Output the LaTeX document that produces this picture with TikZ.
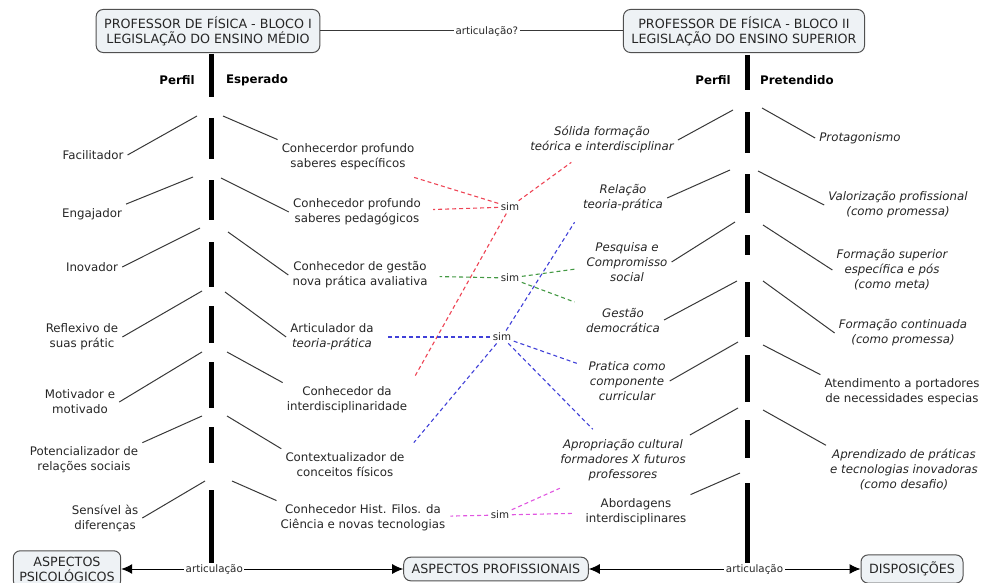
\documentclass[tikz,border=0pt]{standalone}
\usepackage{fontspec}
\setmainfont{DejaVu Sans}
\usetikzlibrary{arrows.meta}

\definecolor{boxfill}{HTML}{EEF2F5}
\definecolor{boxline}{HTML}{505050}
\definecolor{ink}{HTML}{262626}
\definecolor{simred}{HTML}{EE4455}
\definecolor{simgreen}{HTML}{449944}
\definecolor{simblue}{HTML}{4040D8}
\definecolor{simpink}{HTML}{E055E0}

\begin{document}
\begin{tikzpicture}[
    x=1pt, y=-1pt,
    every node/.style={text=ink, font=\fontsize{11.8}{15}\selectfont, align=center, inner sep=4pt},
    block/.style={rectangle, rounded corners=7pt, draw=boxline, line width=1pt, fill=boxfill, inner xsep=8pt, inner ysep=7pt, font=\fontsize{12.7}{14.8}\selectfont},
    phrase/.style={font=\fontsize{10.3}{12}\selectfont, fill=white, inner sep=1.5pt},
    tag/.style={font=\fontsize{11.8}{15}\selectfont\bfseries, text=black},
    spine/.style={line width=5pt, black},
    branch/.style={line width=1pt, draw=black!78},
    link/.style={dash pattern=on 4pt off 3pt, line width=1.1pt, shorten >=8pt, shorten <=1pt},
    bothway/.style={{Latex[length=11pt,width=10pt]}-{Latex[length=11pt,width=10pt]}, line width=1pt, draw=black}
]
\useasboundingbox (0,0) rectangle (988,583);

% Spines
\draw[spine] (211,54) -- (211,97) (211,118) -- (211,159) (211,180) -- (211,220) (211,242) -- (211,287)
  (211,306) -- (211,343) (211,362) -- (211,408) (211,427) -- (211,463) (211,490) -- (211,563);
\draw[spine] (747,55) -- (747,90) (747,112) -- (747,153) (747,174) -- (747,213) (747,235) -- (747,255)
  (747,282) -- (747,337) (747,355) -- (747,402) (747,420) -- (747,458) (747,483) -- (747,563);

% Headers
\node[block] (bloco1) at (208,31) {PROFESSOR DE FÍSICA - BLOCO I\\LEGISLAÇÃO DO ENSINO MÉDIO};
\node[block] (bloco2) at (744,31) {PROFESSOR DE FÍSICA - BLOCO II\\LEGISLAÇÃO DO ENSINO SUPERIOR};
\draw[branch] (bloco1) -- node[phrase, pos=0.55] (artic) {articulação?} (bloco2);

\node[tag] (perfil1) at (177,80) {Perfil};
\node[tag] (esperado) at (257,80) {Esperado};
\node[tag] (perfil2) at (713,80) {Perfil};
\node[tag] (pretendido) at (797,80) {Pretendido};

% Perfil esperado
\node (facil) at (93,155) {Facilitador};
\node (engaj) at (92,214) {Engajador};
\node (inova) at (92,267) {Inovador};
\node (reflex) at (82,337) {Reflexivo de\\suas prátic};
\node (motiv) at (80,402) {Motivador e\\motivado};
\node (poten) at (84,460) {Potencializador de\\relações sociais};
\node (sensiv) at (105,518) {Sensível às\\diferenças};

\node (espec) at (348,157) {Conhecerdor profundo\\saberes específicos};
\node (pedag) at (357,212) {Conhecedor profundo\\saberes pedagógicos};
\node (gestao) at (360,275) {Conhecedor de gestão\\nova prática avaliativa};
\node (articul) at (332,337) {Articulador da\\\textit{teoria-prática}};
\node (interd) at (347,400) {Conhecedor da\\interdisciplinaridade};
\node (contex) at (345,465) {Contextualizador de\\conceitos físicos};
\node (histfil) at (363,518) {Conhecedor Hist. Filos. da\\Ciência e novas tecnologias};

\coordinate (e1l) at (197,116); \coordinate (e1r) at (223,116);
\coordinate (e2l) at (193,177); \coordinate (e2r) at (221,178);
\coordinate (e3l) at (200,228); \coordinate (e3r) at (228,232);
\coordinate (e4l) at (202,291); \coordinate (e4r) at (225,292);
\coordinate (e5l) at (202,352); \coordinate (e5r) at (227,352);
\coordinate (e6l) at (202,416); \coordinate (e6r) at (227,416);
\coordinate (e7l) at (205,481); \coordinate (e7r) at (232,481);

\draw[branch] (e1l) -- (facil.east);  \draw[branch] (e1r) -- (espec.north west);
\draw[branch] (e2l) -- (engaj.north east);  \draw[branch] (e2r) -- (pedag.west);
\draw[branch] (e3l) -- (inova.east);  \draw[branch] (e3r) -- (gestao.west);
\draw[branch] (e4l) -- (reflex.east);  \draw[branch] (e4r) -- (articul.west);
\draw[branch] (e5l) -- (motiv.east);  \draw[branch] (e5r) -- (interd.north west);
\draw[branch] (e6l) -- (poten.north east);  \draw[branch] (e6r) -- (contex.north west);
\draw[branch] (e7l) -- (sensiv.east);  \draw[branch] (e7r) -- (histfil.north west);

% Perfil pretendido
\node (solida) at (602,140) {\itshape Sólida formação\\\itshape teórica e interdisciplinar};
\node (relacao) at (623,198) {\itshape Relação\\\itshape teoria-prática};
\node (pesq) at (627,262) {\itshape Pesquisa e\\\itshape Compromisso\\\itshape social};
\node (gdemo) at (623,320) {\itshape Gestão\\\itshape democrática};
\node (pratica) at (627,381) {\itshape Pratica como\\\itshape componente\\\itshape curricular};
\node (aprop) at (623,460) {\itshape Apropriação cultural\\\itshape formadores X futuros\\\itshape professores};
\node (abord) at (636,512) {Abordagens\\interdisciplinares};

\node (protag) at (860,138) {\itshape Protagonismo};
\node (valor) at (898,205) {\itshape Valorização profissional\\\itshape (como promessa)};
\node (formsup) at (892,270) {\itshape Formação superior\\\itshape específica e pós\\\itshape (como meta)};
\node (formcont) at (903,333) {\itshape Formação continuada\\\itshape (como promessa)};
\node (atend) at (902,392) {Atendimento a portadores\\de necessidades especias};
\node (aprend) at (904,470) {\itshape Aprendizado de práticas\\\itshape e tecnologias inovadoras\\\itshape (como desafio)};

\coordinate (p1l) at (733,110); \coordinate (p1r) at (762,108);
\coordinate (p2l) at (730,170); \coordinate (p2r) at (758,171);
\coordinate (p3l) at (735,222); \coordinate (p3r) at (763,225);
\coordinate (p4l) at (737,281); \coordinate (p4r) at (763,281);
\coordinate (p5l) at (738,342); \coordinate (p5r) at (763,345);
\coordinate (p6l) at (738,408); \coordinate (p6r) at (763,410);
\coordinate (p7l) at (740,473);

\draw[branch] (p1l) -- (solida.east);  \draw[branch] (p1r) -- (protag.west);
\draw[branch] (p2l) -- (relacao.east);  \draw[branch] (p2r) -- (valor.west);
\draw[branch] (p3l) -- (pesq.east);  \draw[branch] (p3r) -- (formsup.west);
\draw[branch] (p4l) -- (gdemo.east);  \draw[branch] (p4r) -- (formcont.west);
\draw[branch] (p5l) -- (pratica.east);  \draw[branch] (p5r) -- (atend.north west);
\draw[branch] (p6l) -- (aprop.north east);  \draw[branch] (p6r) -- (aprend.north west);
\draw[branch] (p7l) -- (abord.north east);

% Ligacoes sim
\node[phrase] (simr) at (510,207) {sim};
\node[phrase] (simg) at (510,278) {sim};
\node[phrase] (simb) at (502,337) {sim};
\node[phrase] (simp) at (500,515) {sim};

\draw[link, simred] (simr) -- (espec);
\draw[link, simred] (simr) -- (pedag);
\draw[link, simred] (simr) -- (solida);
\draw[link, simred] (simr) -- (interd.north east);

\draw[link, simgreen] (simg) -- (gestao);
\draw[link, simgreen] (simg) -- (pesq);
\draw[link, simgreen] (simg) -- (gdemo);

\draw[link, simblue] (simb) -- (articul);
\draw[link, simblue] (simb) -- (relacao.south west);
\draw[link, simblue] (simb) -- (contex.north east);
\draw[link, simblue] (simb) -- (pratica);
\draw[link, simblue] (simb) -- (aprop);

\draw[link, simpink, shorten >=1pt] (simp) -- (histfil);
\draw[link, simpink] (simp) -- (aprop);
\draw[link, simpink] (simp) -- (abord);

% Aspectos
\node[block, inner xsep=6pt, inner ysep=6pt] (psico) at (67,569) {ASPECTOS\\PSICOLÓGICOS};
\node[block] (profis) at (496,569) {ASPECTOS PROFISSIONAIS};
\node[block] (dispo) at (912,569) {DISPOSIÇÕES};

\draw[bothway] (psico) -- node[phrase, pos=0.33] (artic1) {articulação} (profis);
\draw[bothway] (profis) -- node[phrase, pos=0.61] (artic2) {articulação} (dispo);

\end{tikzpicture}
\end{document}
